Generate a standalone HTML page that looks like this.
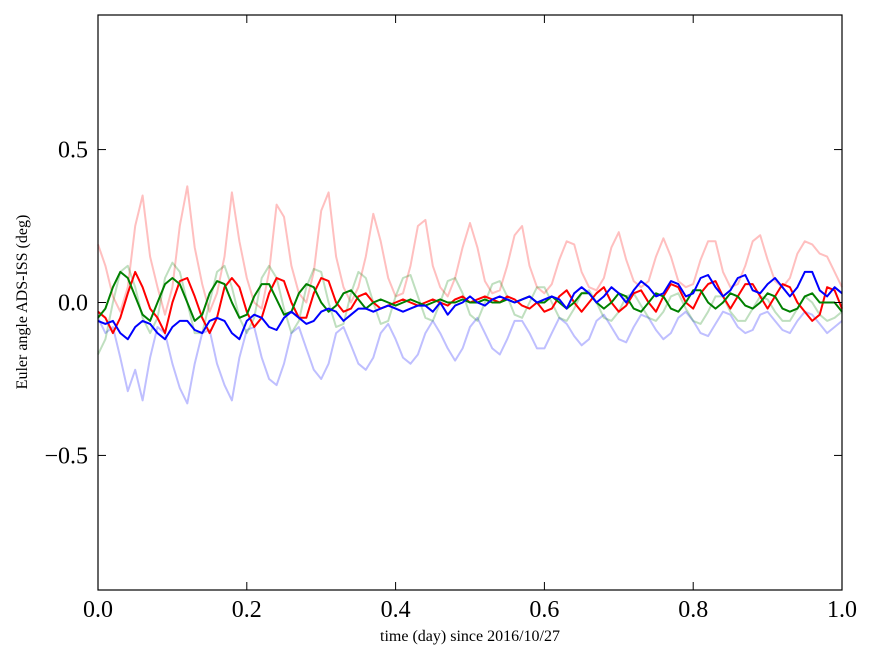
<!DOCTYPE html>
<html><head><meta charset="utf-8"><style>
html,body{margin:0;padding:0;background:#fff;}
svg{display:block;font-family:"Liberation Serif","DejaVu Serif",serif;}
</style></head><body>
<svg id="chart" width="875" height="662" viewBox="0 0 875 662" xmlns="http://www.w3.org/2000/svg">
<rect x="0" y="0" width="875" height="662" fill="#fff"/>
<g id="series"></g>
<rect x="98" y="15" width="744" height="575" fill="none" stroke="#000" stroke-width="1.2"/>
<g id="ticks"></g>
<text x="470" y="641" font-size="16" text-anchor="middle">time (day) since 2016/10/27</text>
<text transform="translate(27,302) rotate(-90)" font-size="16" text-anchor="middle">Euler angle ADS-ISS (deg)</text>
</svg>
<script>
const xTicks=[0,0.2,0.4,0.6,0.8,1.0];
const xTickLabels=["0.0","0.2","0.4","0.6","0.8","1.0"];
const yTicks=[-0.5,0,0.5];
const yTickLabels=["\u22120.5","0.0","0.5"];
const tValues=Array.from({length:101},(_,i)=>i/100);
const lightRed=[0.19,0.12,0.02,-0.03,0.05,0.25,0.35,0.15,0.05,-0.04,0.05,0.25,0.38,0.18,0.06,-0.03,0.03,0.15,0.36,0.2,0.08,0.0,-0.02,0.1,0.32,0.28,0.12,0.03,0.0,0.1,0.3,0.36,0.15,0.05,0.0,0.05,0.15,0.29,0.2,0.08,0.02,0.03,0.12,0.25,0.27,0.12,0.05,0.02,0.08,0.18,0.26,0.18,0.07,0.03,0.04,0.12,0.22,0.25,0.12,0.05,0.03,0.06,0.14,0.2,0.19,0.1,0.05,0.04,0.08,0.18,0.23,0.14,0.07,0.05,0.07,0.15,0.21,0.15,0.07,0.05,0.06,0.14,0.2,0.2,0.1,0.05,0.06,0.12,0.2,0.22,0.14,0.07,0.05,0.08,0.16,0.2,0.19,0.16,0.15,0.1,0.05];
const lightBlue=[-0.05,-0.1,-0.08,-0.18,-0.29,-0.22,-0.32,-0.18,-0.08,-0.1,-0.2,-0.28,-0.33,-0.2,-0.1,-0.09,-0.2,-0.27,-0.32,-0.18,-0.09,-0.08,-0.18,-0.25,-0.27,-0.2,-0.1,-0.08,-0.15,-0.22,-0.25,-0.2,-0.1,-0.08,-0.14,-0.2,-0.22,-0.18,-0.1,-0.07,-0.12,-0.18,-0.2,-0.17,-0.1,-0.06,-0.1,-0.15,-0.19,-0.15,-0.08,-0.05,-0.1,-0.15,-0.17,-0.12,-0.06,-0.06,-0.1,-0.15,-0.15,-0.1,-0.05,-0.07,-0.11,-0.14,-0.12,-0.06,-0.04,-0.08,-0.12,-0.13,-0.08,-0.04,-0.05,-0.09,-0.12,-0.1,-0.05,-0.03,-0.06,-0.1,-0.11,-0.07,-0.03,-0.04,-0.08,-0.1,-0.09,-0.04,-0.03,-0.06,-0.09,-0.1,-0.06,-0.03,-0.04,-0.07,-0.1,-0.08,-0.06];
const lightGreen=[-0.17,-0.12,0.0,0.1,0.12,0.05,-0.05,-0.1,-0.05,0.08,0.13,0.1,0.0,-0.1,-0.1,0.0,0.1,0.12,0.05,-0.05,-0.1,-0.05,0.08,0.12,0.08,-0.02,-0.1,-0.06,0.05,0.11,0.1,0.0,-0.08,-0.07,0.03,0.1,0.08,0.0,-0.07,-0.06,0.02,0.08,0.09,0.02,-0.05,-0.06,0.0,0.07,0.08,0.03,-0.04,-0.06,0.0,0.06,0.07,0.02,-0.04,-0.05,0.0,0.05,0.05,0.0,-0.05,-0.06,-0.02,0.03,0.04,0.0,-0.05,-0.06,-0.03,0.02,0.03,-0.01,-0.05,-0.06,-0.03,0.02,0.03,-0.02,-0.06,-0.07,-0.03,0.02,0.02,-0.03,-0.06,-0.06,-0.02,0.02,0.01,-0.03,-0.06,-0.06,-0.02,0.02,0.0,-0.04,-0.06,-0.05,-0.03];
const redSeries=[-0.03,-0.05,-0.1,-0.05,0.03,0.1,0.05,-0.02,-0.05,-0.1,0.0,0.07,0.08,0.02,-0.05,-0.1,-0.05,0.05,0.08,0.05,-0.03,-0.08,-0.05,0.03,0.08,0.07,0.0,-0.05,-0.05,0.03,0.08,0.07,0.0,-0.03,-0.02,0.02,0.03,0.0,-0.02,-0.01,0.0,0.01,0.0,-0.01,0.0,0.01,0.0,-0.01,0.01,0.02,0.0,0.01,0.02,0.01,0.0,0.02,0.01,-0.01,-0.02,0.0,-0.03,-0.02,0.02,0.04,0.0,-0.03,0.0,0.03,0.05,0.0,-0.03,-0.01,0.03,0.04,0.0,-0.03,0.02,0.06,0.05,0.0,-0.02,0.03,0.06,0.07,0.02,-0.02,0.02,0.06,0.06,0.02,-0.02,0.02,0.06,0.05,0.0,-0.03,-0.06,-0.04,0.05,0.04,-0.02];
const greenSeries=[-0.05,-0.02,0.05,0.1,0.08,0.02,-0.04,-0.06,0.0,0.06,0.08,0.06,0.0,-0.06,-0.04,0.03,0.07,0.06,0.0,-0.05,-0.04,0.02,0.06,0.06,0.01,-0.04,-0.03,0.03,0.06,0.05,0.0,-0.03,-0.01,0.03,0.04,0.01,-0.02,0.0,0.01,0.0,-0.01,0.0,0.01,0.0,-0.01,0.0,0.01,0.0,0.0,0.01,0.0,0.0,0.01,0.0,0.0,0.01,0.0,0.01,0.02,0.0,0.0,0.02,0.0,-0.02,0.0,0.03,0.03,0.0,-0.02,0.0,0.03,0.02,-0.02,-0.03,0.0,0.03,0.02,-0.02,-0.03,0.0,0.04,0.04,0.0,-0.02,0.0,0.03,0.02,-0.01,-0.02,0.0,0.03,0.02,-0.02,-0.03,-0.02,0.02,0.03,0.0,0.0,0.0,-0.03];
const blueSeries=[-0.06,-0.07,-0.06,-0.1,-0.12,-0.08,-0.06,-0.07,-0.1,-0.12,-0.08,-0.06,-0.06,-0.09,-0.1,-0.06,-0.05,-0.06,-0.1,-0.12,-0.06,-0.04,-0.05,-0.08,-0.09,-0.05,-0.03,-0.05,-0.07,-0.06,-0.03,-0.02,-0.03,-0.06,-0.04,-0.02,-0.02,-0.03,-0.02,-0.01,-0.02,-0.03,-0.02,-0.01,-0.01,-0.03,0.0,-0.04,-0.01,0.0,0.02,0.0,-0.01,0.01,0.02,0.01,0.0,0.01,0.02,0.0,0.01,0.02,0.01,-0.02,0.03,0.05,0.03,0.0,0.02,0.05,0.03,0.0,0.04,0.07,0.05,0.02,0.03,0.07,0.06,0.02,0.03,0.08,0.09,0.05,0.02,0.04,0.08,0.09,0.04,0.03,0.06,0.08,0.05,0.02,0.05,0.1,0.1,0.04,0.02,0.05,0.03];

const L=98,R=842,T=15,B=590,YMIN=-0.94,YMAX=0.94;
const xs=v=>L+(v-0)/(1-0)*(R-L);
const ys=v=>B-(v-YMIN)/(YMAX-YMIN)*(B-T);
const NS="http://www.w3.org/2000/svg";
const sg=document.getElementById('series');
function drawLine(vals,color,op,name){
  const p=document.createElementNS(NS,'polyline');
  p.setAttribute('points',vals.map((v,i)=>xs(tValues[i]).toFixed(1)+','+ys(v).toFixed(1)).join(' '));
  p.setAttribute('fill','none');p.setAttribute('stroke',color);p.setAttribute('stroke-width','2');
  p.setAttribute('stroke-opacity',op);p.setAttribute('stroke-linejoin','round');
  
  
  sg.appendChild(p);
}
drawLine(lightRed,'#ff0000',0.25,'series-light-red');
drawLine(lightBlue,'#0000ff',0.25,'series-light-blue');
drawLine(lightGreen,'#008000',0.25,'series-light-green');
drawLine(redSeries,'#ff0000',1,'series-red');
drawLine(greenSeries,'#008000',1,'series-green');
drawLine(blueSeries,'#0000ff',1,'series-blue');

const tg=document.getElementById('ticks');
function mk(tag,attrs){const e=document.createElementNS(NS,tag);for(const k in attrs)e.setAttribute(k,attrs[k]);tg.appendChild(e);return e;}
xTicks.forEach((v,i)=>{
  const x=xs(v);
  const a=mk('line',{x1:x,x2:x,y1:B,y2:B-8,stroke:'#000'});
  
  
  const b=mk('line',{x1:x,x2:x,y1:T,y2:T+8,stroke:'#000'});
  
  
  const t=mk('text',{x:x,y:B+27,'font-size':24,'text-anchor':'middle'});
  t.textContent=xTickLabels[i];
  
  
});
yTicks.forEach((v,i)=>{
  const y=ys(v);
  const a=mk('line',{x1:L,x2:L+8,y1:y,y2:y,stroke:'#000'});
  
  
  const b=mk('line',{x1:R,x2:R-8,y1:y,y2:y,stroke:'#000'});
  
  
  const t=mk('text',{x:L-10,y:y+8,'font-size':24,'text-anchor':'end'});
  t.textContent=yTickLabels[i];
  
  
});
</script>
</body></html>
